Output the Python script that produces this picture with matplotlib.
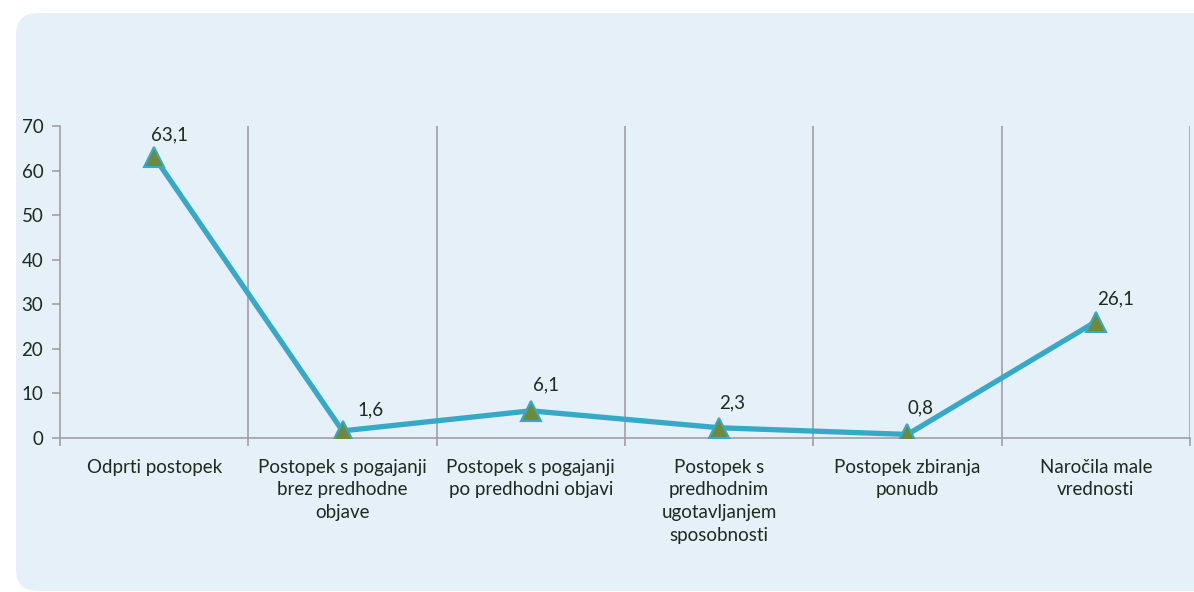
import matplotlib.pyplot as plt
from matplotlib.patches import FancyBboxPatch

categories = [
    "Odprti postopek",
    "Postopek s pogajanji\nbrez predhodne\nobjave",
    "Postopek s pogajanji\npo predhodni objavi",
    "Postopek s\npredhodnim\nugotavljanjem\nsposobnosti",
    "Postopek zbiranja\nponudb",
    "Naročila male\nvrednosti",
]
values = [63.1, 1.6, 6.1, 2.3, 0.8, 26.1]
value_labels = ["63,1", "1,6", "6,1", "2,3", "0,8", "26,1"]
yticks = [0, 10, 20, 30, 40, 50, 60, 70]

# where each data label sits relative to its marker, in pixels (right, up)
label_offsets = [(15, 22), (28, 21), (15, 26), (13, 25), (13, 27), (20, 23)]

plt.rcParams['font.family'] = ['Lato', 'DejaVu Sans']
text_col = '#1e2a1e'
grid_col = '#a0a0a4'
fs = 13.5

W, H = 1194, 592
fig = plt.figure(figsize=(W / 100, H / 100), dpi=100)
fig.patch.set_facecolor('white')

# rounded light blue panel behind the chart (pixel coords)
bg = FancyBboxPatch((16, 1), 1240, 578,
                    boxstyle="round,pad=0,rounding_size=22",
                    transform=None, facecolor='#e5f0f8',
                    edgecolor='none', zorder=-5)
fig.patches.append(bg)

ax = fig.add_axes([60 / W, 1 - 438 / H, (1190 - 60) / W, (438 - 126) / H])
ax.set_facecolor('none')
ax.set_zorder(1)

x = list(range(len(values)))
ax.plot(x, values, color='#36a9c6', lw=3.8, zorder=3, solid_joinstyle='round')
ax.plot(x, values, linestyle='none', marker='^', markersize=14,
        markerfacecolor='#6f8a3a', markeredgecolor='#36a9c6',
        markeredgewidth=1.5, zorder=4)

for xi, v, lab, (dx, dy) in zip(x, values, value_labels, label_offsets):
    ax.annotate(lab, (xi, v), xytext=(dx * 0.72, dy * 0.72),
                textcoords='offset points', ha='center', va='center',
                fontsize=fs, color=text_col, zorder=5)

ax.set_xlim(-0.5, len(values) - 0.5)
ax.set_ylim(0, 70)
ax.set_yticks(yticks)
ax.set_yticklabels([str(t) for t in yticks], fontsize=fs, color=text_col)

# category boundaries carry the grid lines and the x ticks
bounds = [i + 0.5 for i in range(len(values))]
for b in bounds:
    ax.axvline(b, color=grid_col, lw=1.2, zorder=1)
ax.set_xticks(x)
ax.set_xticklabels(categories, fontsize=fs, color=text_col,
                   linespacing=1.4)
ax.tick_params(axis='x', length=0, pad=15)
ax.set_xticks([-0.5] + bounds, minor=True)
ax.tick_params(axis='x', which='minor', length=6, color=grid_col, width=1.2)
ax.tick_params(axis='y', length=6, color=grid_col, width=1.2, pad=6)

for side in ['top', 'right']:
    ax.spines[side].set_visible(False)
for side in ['left', 'bottom']:
    ax.spines[side].set_color(grid_col)
    ax.spines[side].set_linewidth(1.2)

fig.savefig('out.png', dpi=100, facecolor='white')
